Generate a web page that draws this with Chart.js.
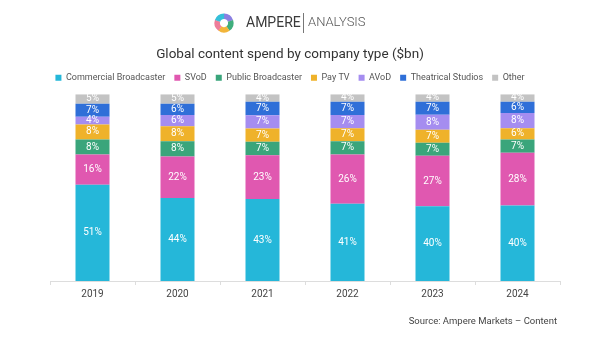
<!DOCTYPE html>
<html>
<head>
<meta charset="utf-8">
<script src="https://cdn.jsdelivr.net/npm/chart.js@4.4.0/dist/chart.umd.min.js"></script>
<style>
  html, body { margin: 0; padding: 0; background: #fff; }
  #wrap { width: 600px; height: 347px; }
</style>
</head>
<body>
<div id="wrap"><canvas id="myChart" width="600" height="347"></canvas></div>
<script>
// data (share of spend, %)
var years = ["2019", "2020", "2021", "2022", "2023", "2024"];
var commercial = [51, 44, 43, 41, 40, 40];
var svod = [16, 22, 23, 26, 27, 28];
var publicBc = [8, 8, 7, 7, 7, 7];
var payTv = [8, 8, 7, 7, 7, 6];
var avod = [4, 6, 7, 7, 8, 8];
var theatrical = [7, 6, 7, 7, 7, 6];
var other = [5, 5, 4, 4, 4, 4];

var series = [
  { label: "Commercial Broadcaster", values: commercial, color: "#25b7d9" },
  { label: "SVoD", values: svod, color: "#e058b0" },
  { label: "Public Broadcaster", values: publicBc, color: "#3aa57b" },
  { label: "Pay TV", values: payTv, color: "#efb22a" },
  { label: "AVoD", values: avod, color: "#a58df0" },
  { label: "Theatrical Studios", values: theatrical, color: "#2f6fd8" },
  { label: "Other", values: other, color: "#c3c3c3" }
];

// totals per year so every bar fills 100%
var totals = years.map(function (y, i) {
  return series.reduce(function (s, d) { return s + d.values[i]; }, 0);
});

var datasets = series.map(function (s) {
  return {
    label: s.label,
    raw: s.values,
    data: s.values.map(function (v, i) { return v / totals[i] * 100; }),
    backgroundColor: s.color,
    borderWidth: 0,
    barPercentage: 0.4,
    categoryPercentage: 1
  };
});

var labelPlugin = {
  id: 'segLabels',
  afterDatasetsDraw: function (chart) {
    var ctx = chart.ctx;
    ctx.save();
    ctx.font = '10px Roboto';
    ctx.fillStyle = '#fff';
    ctx.textAlign = 'center';
    ctx.textBaseline = 'middle';
    chart.data.datasets.forEach(function (ds, di) {
      chart.getDatasetMeta(di).data.forEach(function (bar, i) {
        var mid = (bar.y + bar.base) / 2;
        ctx.fillText(ds.raw[i] + '%', bar.x, mid);
      });
    });
    ctx.restore();
  }
};

// a little more room under the legend
var legendGap = {
  id: 'legendGap',
  beforeInit: function (chart) {
    var fit = chart.legend.fit;
    chart.legend.fit = function () {
      fit.call(this);
      this.height += 2;
    };
  }
};

var decoPlugin = {
  id: 'deco',
  afterDraw: function (chart) {
    var ctx = chart.ctx;
    ctx.save();
    // logo ring
    var cx = 224, cy = 23, r = 6.8;
    var cols = ["#8a7fe2", "#3fae7c", "#f2b53a", "#ee7d9a", "#35bfd9"];
    var start = -Math.PI * 0.5;
    for (var k = 0; k < cols.length; k++) {
      ctx.beginPath();
      ctx.strokeStyle = cols[k];
      ctx.lineWidth = 5.5;
      ctx.arc(cx, cy, r, start + k * Math.PI * 2 / 5, start + (k + 1) * Math.PI * 2 / 5 + 0.02);
      ctx.stroke();
    }
    ctx.textBaseline = 'middle';
    ctx.textAlign = 'left';
    ctx.fillStyle = '#3a3a3a';
    ctx.font = '14px Roboto';
    ctx.fillText('AMPERE', 246, 23);
    ctx.fillStyle = '#777';
    ctx.fillRect(303, 13, 1, 20);
    ctx.fillStyle = '#555';
    ctx.font = '300 13px Roboto';
    ctx.fillText('ANALYSIS', 308, 23);
    // source
    ctx.textAlign = 'right';
    ctx.fillStyle = '#444';
    ctx.font = '9.5px Roboto';
    ctx.fillText('Source: Ampere Markets \u2013 Content', 557, 322);
    ctx.restore();
  }
};

var ctx = document.getElementById('myChart').getContext('2d');
var myChart = new Chart(ctx, {
  type: 'bar',
  data: { labels: years, datasets: datasets },
  options: {
    responsive: false,
    animation: false,
    layout: { padding: { left: 20, right: 40, top: 47, bottom: 44 } },
    plugins: {
      title: {
        display: true,
        text: 'Global content spend by company type ($bn)',
        color: '#333',
        font: { family: 'Roboto', size: 13.5, weight: 'normal' },
        padding: { top: 0, bottom: 1 }
      },
      legend: {
        position: 'top',
        labels: {
          boxWidth: 6,
          boxHeight: 6,
          padding: 9,
          color: '#555',
          font: { family: 'Roboto', size: 9 }
        }
      },
      tooltip: { enabled: false }
    },
    scales: {
      x: {
        stacked: true,
        grid: { drawOnChartArea: false, drawTicks: true, tickLength: 4, color: '#ddd', offset: true },
        border: { color: '#ddd' },
        ticks: { color: '#444', font: { family: 'Roboto', size: 10 }, padding: 3 }
      },
      y: {
        stacked: true,
        display: true,
        min: 0,
        max: 100,
        grid: { display: false, drawTicks: false },
        border: { display: false },
        ticks: { display: false },
        afterFit: function (axis) { axis.width = 30; }
      }
    }
  },
  plugins: [legendGap, labelPlugin, decoPlugin]
});
</script>
</body>
</html>
